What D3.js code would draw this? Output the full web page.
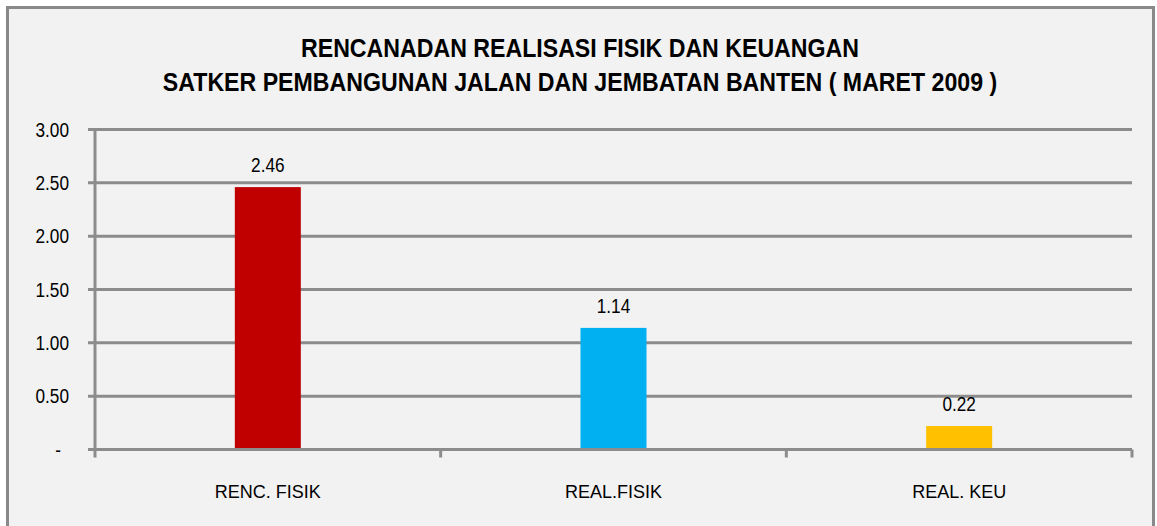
<!DOCTYPE html>
<meta charset="utf-8">
<style>
  body { margin: 0; background: #fff; }
  svg text { font-family: "Liberation Sans", Arial, sans-serif; }
</style>
<body>
<svg></svg>
<script src="https://cdn.jsdelivr.net/npm/d3@7"></script>
<script>
  // chart data
  var categories = ["RENC. FISIK", "REAL.FISIK", "REAL. KEU"];
  var values = [2.46, 1.14, 0.22];
  var barColors = ["#c00000", "#00b0f0", "#ffc000"];
  var yTicks = [0, 0.5, 1, 1.5, 2, 2.5, 3];
  var titleLines = ["RENCANADAN REALISASI FISIK DAN KEUANGAN",
                    "SATKER PEMBANGUNAN JALAN DAN JEMBATAN BANTEN ( MARET 2009 )"];

  var width = 1157, height = 526;
  var svg = d3.select("svg").attr("width", width).attr("height", height);

  // squeeze a text to look like a narrow font
  function condense(sel, factor)
  {
    sel.each(function(){
      var w = this.getComputedTextLength();
      d3.select(this)
        .attr("textLength", w * factor)
        .attr("lengthAdjust", "spacingAndGlyphs");
    });
  }

  // chart frame
  svg.append("rect")
     .attr("x", 7.5).attr("y", 7.5)
     .attr("width", 1146).attr("height", 530)
     .attr("fill", "#f2f2f2")
     .attr("stroke", "#898989")
     .attr("stroke-width", 3);

  // title
  svg.selectAll(".title")
     .data(titleLines)
     .enter()
     .append("text")
     .attr("class", "title")
     .attr("x", 580)
     .attr("y", function(d, i){ return 57 + i * 34; })
     .attr("text-anchor", "middle")
     .attr("font-size", 26)
     .attr("font-weight", "bold")
     .attr("fill", "#000")
     .text(function(d){ return d; })
     .call(condense, 0.89);

  var plotLeft = 95, plotRight = 1132, plotTop = 129.5, plotBottom = 449.5;

  var x = d3.scaleBand().domain(categories).range([plotLeft, plotRight]).paddingInner(0).paddingOuter(0);
  var y = d3.scaleLinear().domain([0, 3]).range([plotBottom, plotTop]);

  var barW = 66;

  // gridlines
  svg.append("g")
     .selectAll("line")
     .data(yTicks)
     .enter()
     .append("line")
     .attr("x1", plotLeft - 7).attr("x2", plotRight)
     .attr("y1", function(d){ return y(d); })
     .attr("y2", function(d){ return y(d); })
     .attr("stroke", "#8c8c8c")
     .attr("stroke-width", 3);

  // y axis line
  svg.append("line")
     .attr("x1", plotLeft).attr("x2", plotLeft)
     .attr("y1", plotTop - 1.5).attr("y2", plotBottom + 8)
     .attr("stroke", "#8c8c8c")
     .attr("stroke-width", 3);

  // x category ticks (boundaries)
  var bounds = categories.map(function(c){ return x(c) + x.bandwidth(); });
  svg.append("g")
     .selectAll("line")
     .data(bounds)
     .enter()
     .append("line")
     .attr("x1", function(d){ return d; })
     .attr("x2", function(d){ return d; })
     .attr("y1", plotBottom).attr("y2", plotBottom + 8)
     .attr("stroke", "#8c8c8c")
     .attr("stroke-width", 3);

  // y tick labels
  svg.append("g")
     .selectAll("text")
     .data(yTicks)
     .enter()
     .append("text")
     .attr("x", function(d){ return d === 0 ? 61 : 69; })
     .attr("y", function(d){ return y(d) + 7; })
     .attr("text-anchor", "end")
     .attr("font-size", 20)
     .attr("fill", "#000")
     .text(function(d){ return d === 0 ? "-" : d3.format(".2f")(d); })
     .call(condense, 0.86);

  // bars
  svg.append("g")
     .selectAll("rect")
     .data(values)
     .enter()
     .append("rect")
     .attr("x", function(d, i){ return x(categories[i]) + x.bandwidth() / 2 - barW / 2; })
     .attr("y", function(d){ return y(d); })
     .attr("width", barW)
     .attr("height", function(d){ return y(0) - y(d) - 1.5; })
     .attr("fill", function(d, i){ return barColors[i]; });

  // value labels
  svg.append("g")
     .selectAll("text")
     .data(values)
     .enter()
     .append("text")
     .attr("x", function(d, i){ return x(categories[i]) + x.bandwidth() / 2; })
     .attr("y", function(d){ return y(d) - 15; })
     .attr("text-anchor", "middle")
     .attr("font-size", 20)
     .attr("fill", "#000")
     .text(function(d){ return d3.format(".2f")(d); })
     .call(condense, 0.86);

  // category labels
  svg.append("g")
     .selectAll("text")
     .data(categories)
     .enter()
     .append("text")
     .attr("x", function(d){ return x(d) + x.bandwidth() / 2; })
     .attr("y", 498)
     .attr("text-anchor", "middle")
     .attr("font-size", 18)
     .attr("fill", "#000")
     .text(function(d){ return d; });
</script>
</body>
</html>
